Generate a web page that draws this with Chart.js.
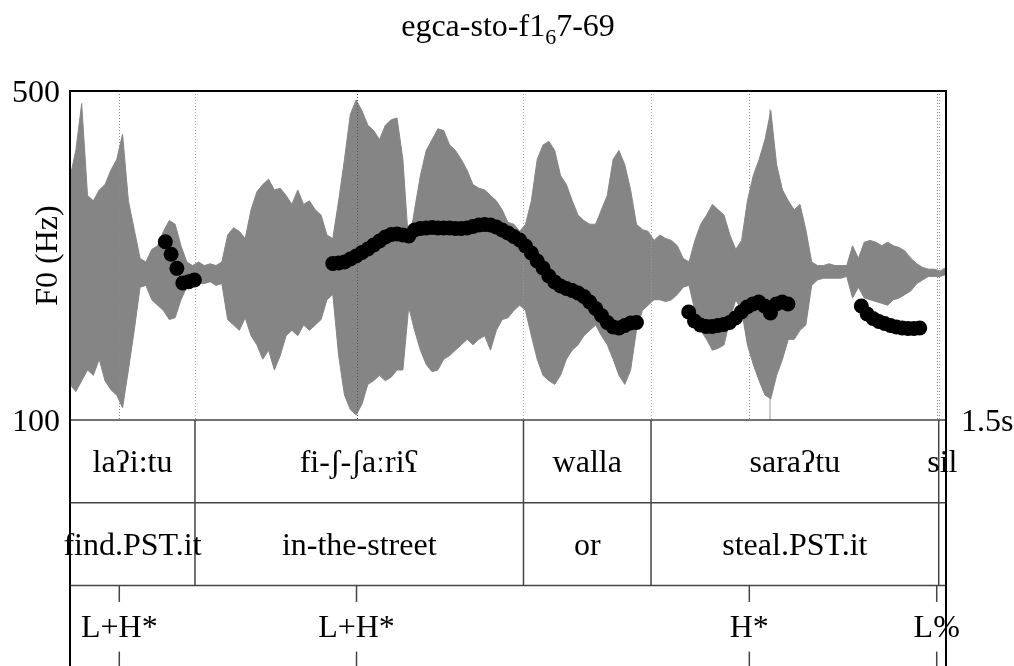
<!DOCTYPE html>
<html>
<head>
<meta charset="utf-8">
<script src="https://cdn.jsdelivr.net/npm/chart.js@4.4.1/dist/chart.umd.min.js"></script>
<style>
  html, body { margin: 0; padding: 0; background: #fff; overflow: hidden; }
  canvas { display: block; }
</style>
</head>
<body>
<canvas id="c" width="1014" height="666"></canvas>
<script>
// ---- Sound: amplitude envelope sampled every 10 ms (0 .. 1.5 s) ----
const WAVE_STEP = 0.01;
const waveTop = [
  0.52,0.67,0.93,0.42,0.39,0.45,0.48,0.56,0.62,0.76,
  0.39,0.23,0.07,0.05,0.12,0.14,0.22,0.28,0.26,0.14,
  0.05,0.03,0.05,0.03,0.04,0.03,0.05,0.20,0.24,0.22,
  0.18,0.34,0.44,0.48,0.51,0.45,0.46,0.42,0.37,0.45,
  0.37,0.39,0.34,0.31,0.20,0.18,0.39,0.62,0.87,0.95,
  0.89,0.81,0.78,0.73,0.81,0.84,0.85,0.62,0.14,0.34,
  0.53,0.67,0.73,0.79,0.78,0.70,0.67,0.62,0.56,0.48,
  0.46,0.45,0.42,0.39,0.34,0.27,0.26,0.22,0.26,0.39,
  0.62,0.70,0.72,0.67,0.53,0.48,0.39,0.31,0.28,0.26,
  0.26,0.34,0.42,0.62,0.67,0.59,0.45,0.26,0.23,0.22,
  0.17,0.20,0.18,0.17,0.14,0.07,0.05,0.17,0.26,0.31,
  0.37,0.34,0.31,0.20,0.12,0.17,0.39,0.53,0.62,0.73,
  0.89,0.59,0.45,0.39,0.34,0.37,0.23,0.05,0.03,0.03,
  0.04,0.03,0.03,0.03,0.14,0.07,0.16,0.17,0.16,0.14,
  0.16,0.14,0.13,0.11,0.07,0.04,0.02,0.01,0.01,0.00,0.02
];
const waveBottom = [
  -0.63,-0.67,-0.61,-0.55,-0.58,-0.49,-0.61,-0.66,-0.69,-0.76,
  -0.55,-0.33,-0.09,-0.08,-0.16,-0.19,-0.22,-0.27,-0.26,-0.16,
  -0.09,-0.08,-0.07,-0.07,-0.06,-0.08,-0.07,-0.27,-0.30,-0.33,
  -0.26,-0.36,-0.41,-0.49,-0.44,-0.55,-0.47,-0.36,-0.33,-0.36,
  -0.30,-0.33,-0.30,-0.27,-0.16,-0.13,-0.47,-0.69,-0.77,-0.80,
  -0.74,-0.63,-0.61,-0.58,-0.61,-0.59,-0.55,-0.55,-0.20,-0.33,
  -0.44,-0.52,-0.56,-0.55,-0.49,-0.47,-0.44,-0.41,-0.38,-0.41,
  -0.38,-0.36,-0.44,-0.33,-0.27,-0.26,-0.22,-0.19,-0.22,-0.36,
  -0.49,-0.58,-0.61,-0.63,-0.58,-0.49,-0.44,-0.41,-0.36,-0.33,
  -0.30,-0.36,-0.41,-0.49,-0.58,-0.63,-0.55,-0.33,-0.22,-0.19,
  -0.16,-0.16,-0.17,-0.16,-0.13,-0.09,-0.08,-0.22,-0.33,-0.38,
  -0.44,-0.43,-0.41,-0.27,-0.16,-0.22,-0.41,-0.52,-0.61,-0.69,
  -0.71,-0.58,-0.49,-0.38,-0.38,-0.33,-0.30,-0.08,-0.05,-0.04,
  -0.04,-0.04,-0.04,-0.03,-0.15,-0.09,-0.15,-0.16,-0.17,-0.18,
  -0.19,-0.16,-0.15,-0.13,-0.11,-0.07,-0.05,-0.03,-0.03,-0.03,-0.02
];
// single click in the sound near 1.2 s
const clickTime = 1.1986;
const clickRange = [-0.83, 0.90];

// ---- Pitch track (Hz), four voiced stretches ----
const f0Time1 = [0.1632,0.1731,0.1830,0.1932,0.2031,0.2130];
const f0Hz1   = [316.8,301.5,284.4,266.6,268.1,270.2];

const f0Time2 = [0.45,0.46,0.47,0.48,0.49,0.50,0.51,0.52,0.53,0.54,
                 0.55,0.56,0.57,0.58,0.59,0.60,0.61,0.62,0.63,0.64,
                 0.65,0.66,0.67,0.68,0.69,0.70,0.71,0.72,0.73,0.74,
                 0.75,0.76,0.77,0.78,0.79,0.80,0.81,0.82,0.83,0.84,
                 0.85,0.86,0.87,0.88,0.89,0.90,0.91,0.92,0.93,0.94,
                 0.95,0.96,0.97];
const f0Hz2   = [290.3,290.9,292.1,295.7,299.4,303.6,307.9,312.8,317.6,322.5,
                 325.5,326.1,324.9,323.7,331.0,332.8,333.4,334.0,333.4,333.4,
                 333.4,332.8,332.8,333.4,335.3,337.1,337.7,337.1,334.7,331.0,
                 327.4,323.1,318.8,311.6,303.0,293.3,284.8,275.1,267.8,262.9,
                 259.9,257.4,254.4,250.2,243.5,235.6,227.1,218.5,213.1,211.9,
                 214.9,217.9,218.5];

const f0Time3 = [1.0594,1.0694,1.0794,1.0894,1.0994,1.1094,1.1194,1.1294,1.1394,
                 1.1494,1.1594,1.1694,1.1794,1.1894,1.1994,1.2094,1.2194,1.2294];
const f0Hz3   = [231.3,220.4,215.5,213.7,213.7,214.9,216.1,218.5,224.0,
                 231.3,237.4,241.0,243.5,238.6,230.1,241.0,243.5,241.0];

const f0Time4 = [1.3550,1.3650,1.3750,1.3850,1.3950,1.4050,1.4150,1.4250,1.4350,1.4450,1.4550];
const f0Hz4   = [238.6,228.9,223.4,219.8,217.3,214.9,213.1,211.9,211.2,211.2,211.9];

// ---- TextGrid ----
const intervalBounds = [0, 0.2140, 0.7765, 0.9949, 1.4875, 1.5];
const wordLabels  = ['laʔi:tu', 'fi-ʃ-ʃaːriʕ', 'walla', 'saraʔtu', 'sil'];
const glossLabels = ['find.PST.it', 'in-the-street', 'or', 'steal.PST.it', ''];
const toneTimes  = [0.0844, 0.4906, 1.1632, 1.4841];
const toneLabels = ['L+H*', 'L+H*', 'H*', 'L%'];

// ---- Axis range and labels ----
const timeRange = [0, 1.5];
const f0Range = [100, 500];
const ampRange = [-0.828, 1.0];
const f0TickLabels = ['100', '500'];
const timeEndLabel = '1.5s';
const yTitle = 'F0 (Hz)';
const titleMain = 'egca-sto-f1';
const titleSub = '6';
const titleRest = '7-69';

const FONT = '"Liberation Serif", "Times New Roman", "DejaVu Serif", serif';
const TIER_H = 82.7;

const toPts = (ts, vs) => ts.map((t, i) => ({ x: t, y: vs[i] }));
const waveTime = waveTop.map((_, i) => +(i * WAVE_STEP).toFixed(2));
const f0Points = [].concat(
  toPts(f0Time1, f0Hz1), toPts(f0Time2, f0Hz2),
  toPts(f0Time3, f0Hz3), toPts(f0Time4, f0Hz4)
);

function vline(ctx, x, y0, y1) {
  ctx.beginPath(); ctx.moveTo(x, y0); ctx.lineTo(x, y1); ctx.stroke();
}
function hline(ctx, y, x0, x1) {
  ctx.beginPath(); ctx.moveTo(x0, y); ctx.lineTo(x1, y); ctx.stroke();
}

const praatDecor = {
  id: 'praatDecor',
  // dotted boundary lines go over the sound but under the pitch dots
  afterDatasetDraw(chart, args) {
    if (args.index !== 1) return;
    const { ctx, chartArea: a, scales: { x } } = chart;
    ctx.save();
    ctx.lineWidth = 1;
    ctx.setLineDash([1, 2]);
    intervalBounds.slice(1, -1).forEach(t => {
      ctx.strokeStyle = '#9a9a9a';
      vline(ctx, Math.round(x.getPixelForValue(t)) + 0.5, a.top, a.bottom);
    });
    toneTimes.forEach((t, i) => {
      ctx.strokeStyle = i === 1 ? '#555' : '#8a8a8a';
      vline(ctx, Math.round(x.getPixelForValue(t)) + 0.5, a.top, a.bottom);
    });
    ctx.restore();
  },
  afterDraw(chart) {
    const { ctx, chartArea: a, scales: { x, y } } = chart;
    const H = chart.height;
    ctx.save();

    // TextGrid tiers below the plot
    const t1 = a.bottom, t2 = a.bottom + TIER_H, t3 = a.bottom + 2 * TIER_H;
    ctx.strokeStyle = '#444';
    ctx.lineWidth = 1.5;
    hline(ctx, t1, a.left, a.right);
    hline(ctx, t2, a.left, a.right);
    hline(ctx, t3, a.left, a.right);
    intervalBounds.slice(1, -1).forEach(t => {
      vline(ctx, x.getPixelForValue(t), t1, t3);
    });
    // point tier marks
    toneTimes.forEach(t => {
      const px = x.getPixelForValue(t);
      vline(ctx, px, t3, t3 + TIER_H * 0.2);
      vline(ctx, px, t3 + TIER_H * 0.8, t3 + TIER_H);
    });

    // frame
    ctx.strokeStyle = '#000';
    ctx.lineWidth = 2;
    hline(ctx, a.top, a.left - 1, a.right + 1);
    vline(ctx, a.left, a.top, H);
    vline(ctx, a.right, a.top, H);

    ctx.fillStyle = '#000';
    ctx.font = '32px ' + FONT;
    ctx.textBaseline = 'alphabetic';
    ctx.textAlign = 'center';
    for (let i = 0; i < wordLabels.length; i++) {
      const cx = (x.getPixelForValue(intervalBounds[i]) + x.getPixelForValue(intervalBounds[i + 1])) / 2;
      ctx.fillText(wordLabels[i], cx, t1 + 52);
      if (glossLabels[i]) ctx.fillText(glossLabels[i], cx, t2 + 52);
    }
    toneTimes.forEach((t, i) => {
      ctx.fillText(toneLabels[i], x.getPixelForValue(t), t3 + 52);
    });

    // F0 range labels and time label
    ctx.textAlign = 'right';
    ctx.fillText(f0TickLabels[1], a.left - 10, y.getPixelForValue(f0Range[1]) + 11);
    ctx.fillText(f0TickLabels[0], a.left - 10, y.getPixelForValue(f0Range[0]) + 11);
    ctx.textAlign = 'left';
    ctx.fillText(timeEndLabel, a.right + 15, y.getPixelForValue(f0Range[0]) + 11);

    // axis title
    ctx.save();
    ctx.translate(57, (a.top + a.bottom) / 2);
    ctx.rotate(-Math.PI / 2);
    ctx.textAlign = 'center';
    ctx.fillText(yTitle, 0, 0);
    ctx.restore();

    // title with subscript
    const subFont = '22px ' + FONT;
    const wMain = ctx.measureText(titleMain).width;
    const wRest = ctx.measureText(titleRest).width;
    ctx.font = subFont;
    const wSub = ctx.measureText(titleSub).width;
    const total = wMain + wSub + wRest;
    let tx = (a.left + a.right) / 2 - total / 2;
    const ty = 36;
    ctx.textAlign = 'left';
    ctx.font = '32px ' + FONT;
    ctx.fillText(titleMain, tx, ty); tx += wMain;
    ctx.font = subFont;
    ctx.fillText(titleSub, tx, ty + 8); tx += wSub;
    ctx.font = '32px ' + FONT;
    ctx.fillText(titleRest, tx, ty);

    ctx.restore();
  }
};

new Chart(document.getElementById('c').getContext('2d'), {
  type: 'line',
  data: {
    datasets: [
      {
        label: 'F0', type: 'scatter', data: f0Points, yAxisID: 'y',
        backgroundColor: '#000', borderColor: '#000', borderWidth: 0,
        pointRadius: 7.5, pointHoverRadius: 7.5, showLine: false
      },
      {
        label: 'sound+', data: toPts(waveTime, waveTop), yAxisID: 'amp',
        borderColor: '#858585', backgroundColor: '#858585', borderWidth: 1,
        fill: '+1', pointRadius: 0, tension: 0
      },
      {
        label: 'sound-', data: toPts(waveTime, waveBottom), yAxisID: 'amp',
        borderColor: '#858585', borderWidth: 1, fill: false, pointRadius: 0, tension: 0
      },
      {
        label: 'click', data: toPts([clickTime, clickTime], clickRange), yAxisID: 'amp',
        borderColor: '#9a9a9a', borderWidth: 1, fill: false, pointRadius: 0
      }
    ]
  },
  options: {
    responsive: false,
    animation: false,
    devicePixelRatio: 1,
    events: [],
    layout: { padding: { left: 70, right: 68, top: 91, bottom: 246 } },
    plugins: { legend: { display: false }, tooltip: { enabled: false }, title: { display: false } },
    scales: {
      x: { type: 'linear', min: timeRange[0], max: timeRange[1], display: false },
      y: { type: 'linear', min: f0Range[0], max: f0Range[1], display: false },
      amp: { type: 'linear', min: ampRange[0], max: ampRange[1], display: false }
    }
  },
  plugins: [praatDecor]
});
</script>
</body>
</html>
